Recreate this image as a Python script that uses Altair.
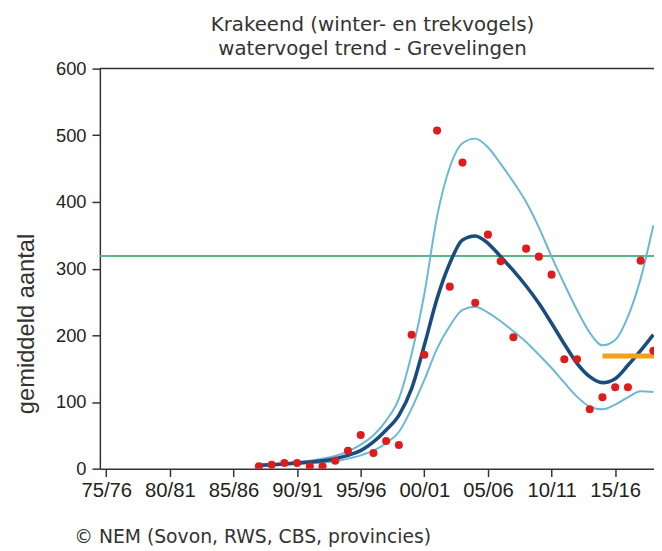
import altair as alt
import pandas as pd

# ---- data ----
years = list(range(1987, 2019))
counts = [3.6, 5.9, 8.5, 8.5, 3.6, 3.6, 11.9, 26.7, 50.4, 23.3, 41.5, 35.6,
          201, 171, 507, 273, 459, 249, 351, 311, 197, 330, 318, 291,
          164, 164, 89, 107, 122, 122, 312, 177]
trend = [5, 6, 7, 8.5, 10, 12, 15, 20, 27, 40, 58, 80,
         120, 185, 255, 308, 343, 349, 338, 318, 297, 274, 248, 218,
         187, 158, 138, 129, 135, 155, 177, 201]
upper = [6, 7, 8, 10, 12, 15, 19, 26, 36, 50, 72, 105,
         172, 262, 378, 452, 488, 495, 482, 457, 430, 400, 362, 318,
         277, 238, 204, 185, 193, 228, 285, 365]
lower = [4, 5, 6, 7, 8, 9, 11, 15, 20, 27, 38, 55,
         90, 133, 180, 214, 238, 243, 234, 221, 206, 190, 171, 151,
         129, 108, 93, 89, 96, 107, 116, 115]

green_level = [319]
orange_start = [2014]
orange_end = [2019]
orange_level = [169]
frame_level = [600]

x_ticks = list(range(1975, 2020, 5))
y_ticks = list(range(0, 601, 100))

title_lines = ["Krakeend (winter- en trekvogels)", "watervogel trend - Grevelingen"]
credit = "\u00a9 NEM (Sovon, RWS, CBS, provincies)"

# ---- tables ----
df = pd.DataFrame({"year": years, "count": counts, "trend": trend,
                   "upper": upper, "lower": lower})
df_green = pd.DataFrame({"v": green_level})
df_frame = pd.DataFrame({"v": frame_level})
df_orange = pd.DataFrame({"x": orange_start, "x2": orange_end, "v": orange_level})

AX_COL = "#333333"
LAB_FONT = "Liberation Sans"
XLAB_FONT = "Liberation Sans Narrow, Liberation Sans"
TXT_FONT = "DejaVu Sans"

x_axis = alt.Axis(values=x_ticks, grid=False, title="",
                  labelExpr="(datum.value % 100 < 10 ? '0' : '') + (datum.value % 100) + '/' + "
                            "((datum.value + 1) % 100 < 10 ? '0' : '') + ((datum.value + 1) % 100)",
                  tickSize=8, tickWidth=1.5, domainWidth=1.5,
                  tickColor=AX_COL, domainColor=AX_COL,
                  labelFont=XLAB_FONT, labelFontSize=20.5, labelColor="#222222",
                  labelPadding=4, labelFlush=False, labelOverlap=False)
y_axis = alt.Axis(values=y_ticks, grid=False, title="gemiddeld aantal",
                  tickSize=8, tickWidth=1.5, domainWidth=1.5,
                  tickColor=AX_COL, domainColor=AX_COL,
                  labelFont=LAB_FONT, labelFontSize=18.5, labelColor="#222222",
                  labelPadding=6,
                  titleFont=LAB_FONT, titleFontSize=24, titleFontWeight="normal",
                  titleColor="#333333", titleX=-67, titleY=258,
                  titleAngle=-90, titleBaseline="alphabetic", titleAlign="center")

xscale = alt.Scale(domain=[1974.5, 2018.05], nice=False, zero=False)
yscale = alt.Scale(domain=[0, 600], nice=False)


def X(field):
    return alt.X(field, type="quantitative", scale=xscale, axis=x_axis)


def Y(field):
    return alt.Y(field, type="quantitative", scale=yscale, axis=y_axis)


frame = alt.Chart(df_frame).mark_rule(color=AX_COL, strokeWidth=1.5).encode(y=Y("v"))
green = alt.Chart(df_green).mark_rule(color="#5cb583", strokeWidth=2.2).encode(y=Y("v"))
orange = alt.Chart(df_orange).mark_rule(color="#f5a01a", strokeWidth=5, clip=True).encode(
    x=X("x"), x2=alt.X2("x2"), y=Y("v"))

ci_up = alt.Chart(df).mark_line(color="#69b8d6", strokeWidth=2, interpolate="monotone",
                                clip=True).encode(x=X("year"), y=Y("upper"))
ci_lo = alt.Chart(df).mark_line(color="#69b8d6", strokeWidth=2, interpolate="monotone",
                                clip=True).encode(x=X("year"), y=Y("lower"))
trend_line = alt.Chart(df).mark_line(color="#1a4d7e", strokeWidth=3.6, interpolate="monotone",
                                     clip=True).encode(x=X("year"), y=Y("trend"))
pts = alt.Chart(df).mark_circle(color="#e01b1b", size=66, opacity=1, clip=True).encode(
    x=X("year"), y=Y("count"))

t1 = alt.Chart(pd.DataFrame({"t": [title_lines[0]]})).mark_text(
    font=TXT_FONT, fontSize=20, color="#333333", align="center", baseline="alphabetic"
).encode(text="t:N", x=alt.value(276), y=alt.value(-38))
t2 = alt.Chart(pd.DataFrame({"t": [title_lines[1]]})).mark_text(
    font=TXT_FONT, fontSize=20, color="#333333", align="center", baseline="alphabetic"
).encode(text="t:N", x=alt.value(276), y=alt.value(-14))
cr = alt.Chart(pd.DataFrame({"t": [credit]})).mark_text(
    font=TXT_FONT, fontSize=19, color="#333333", align="left", baseline="alphabetic"
).encode(text="t:N", x=alt.value(-26), y=alt.value(480))

chart = alt.layer(frame, green, ci_up, ci_lo, trend_line, orange, pts, t1, t2, cr).properties(
    width=561, height=405,
    padding={"left": 93, "top": 58, "right": 0, "bottom": 80},
    autosize=alt.AutoSizeParams(type="none"),
).configure_view(stroke="transparent")

chart.save("out.html", embed_options={"renderer": "svg", "actions": False})
